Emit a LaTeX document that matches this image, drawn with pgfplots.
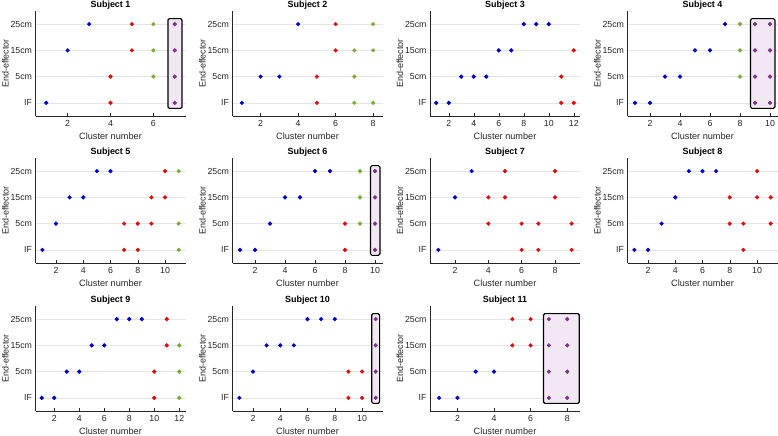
\documentclass[border=0pt]{standalone}
\usepackage{pgfplots}
\pgfplotsset{compat=1.18}
\usepackage{fontspec}
\setmainfont{Liberation Sans}
\definecolor{cB}{RGB}{0,0,200}
\definecolor{cR}{RGB}{225,10,10}
\definecolor{cG}{RGB}{119,172,48}
\definecolor{cP}{RGB}{126,47,142}
\definecolor{boxfill}{RGB}{242,232,243}
\definecolor{axc}{RGB}{38,38,38}
\tikzset{hbox/.style={draw=black,line width=1.2bp,fill=boxfill,rounded corners=1.5bp}}
\pgfplotsset{
  sub/.style={width=150bp,height=105bp,scale only axis,anchor=south west,
    xmin=0.5,ymin=0.5,ymax=4.5,
    ytick={1,2,3,4},yticklabels={IF,5cm,15cm,25cm},
    xtick={2,4,6,8,10,12},
    ymajorgrids,grid style={black!10,line width=0.5bp},
    axis x line*=bottom,axis y line*=left,
    axis line style={axc,line width=0.6bp},
    tick style={axc,line width=0.5bp},
    tick align=inside,major tick length=2.5bp,
    ytick style={draw=none},
    ticklabel style={font=\fontsize{8.8}{9}\selectfont,text=axc},
    xticklabel style={yshift=-1bp},
    /pgf/number format/assume math mode=true,
    label style={font=\fontsize{9.2}{10}\selectfont,text=axc},
    xlabel={Cluster number},ylabel={End-effector},
    xlabel style={yshift=1bp},
    ylabel style={font=\fontsize{9}{10}\selectfont,yshift=-5bp},
    title style={font=\bfseries\fontsize{9}{10}\selectfont,yshift=-8bp},
    clip=false},
  bl/.style={only marks,mark=*,mark size=1.9bp,color=cB},
  rd/.style={only marks,mark=*,mark size=1.9bp,color=cR},
  gr/.style={only marks,mark=*,mark size=1.9bp,color=cG},
  pu/.style={only marks,mark=*,mark size=1.9bp,color=cP},
}
\begin{document}
\begin{tikzpicture}[x=1bp,y=1bp]
\path[use as bounding box] (0,0) rectangle (778,436);
% Row 1
\begin{axis}[sub,at={(35.5bp,320bp)},xmax=7.5,title={Subject 1}]
\draw[hbox] (axis cs:6.68,0.79) rectangle (axis cs:7.34,4.21);
\addplot[bl] coordinates {(1,1)(2,3)(3,4)};
\addplot[rd] coordinates {(4,1)(4,2)(5,3)(5,4)};
\addplot[gr] coordinates {(6,2)(6,3)(6,4)};
\addplot[pu] coordinates {(7,1)(7,2)(7,3)(7,4)};
\end{axis}
\begin{axis}[sub,at={(232.5bp,320bp)},xmax=8.5,title={Subject 2}]
\addplot[bl] coordinates {(1,1)(2,2)(3,2)(4,4)};
\addplot[rd] coordinates {(5,1)(5,2)(6,3)(6,4)};
\addplot[gr] coordinates {(7,1)(7,2)(7,3)(8,1)(8,3)(8,4)};
\end{axis}
\begin{axis}[sub,at={(430bp,320bp)},xmax=12.5,title={Subject 3}]
\addplot[bl] coordinates {(1,1)(2,1)(3,2)(4,2)(5,2)(6,3)(7,3)(8,4)(9,4)(10,4)};
\addplot[rd] coordinates {(11,1)(11,2)(12,1)(12,3)};
\end{axis}
\begin{axis}[sub,at={(627.5bp,320bp)},xmax=10.5,title={Subject 4}]
\draw[hbox] (axis cs:8.7,0.79) rectangle (axis cs:10.33,4.21);
\addplot[bl] coordinates {(1,1)(2,1)(3,2)(4,2)(5,3)(6,3)(7,4)};
\addplot[gr] coordinates {(8,2)(8,3)(8,4)};
\addplot[pu] coordinates {(9,1)(9,2)(9,3)(9,4)(10,1)(10,2)(10,3)(10,4)};
\end{axis}
% Row 2
\begin{axis}[sub,at={(35.5bp,173bp)},xmax=11.5,title={Subject 5}]
\addplot[bl] coordinates {(1,1)(2,2)(3,3)(4,3)(5,4)(6,4)};
\addplot[rd] coordinates {(7,1)(7,2)(8,1)(8,2)(9,2)(9,3)(10,3)(10,4)};
\addplot[gr] coordinates {(11,1)(11,2)(11,4)};
\end{axis}
\begin{axis}[sub,at={(232.5bp,173bp)},xmax=10.5,title={Subject 6}]
\draw[hbox] (axis cs:9.7,0.79) rectangle (axis cs:10.33,4.21);
\addplot[bl] coordinates {(1,1)(2,1)(3,2)(4,3)(5,3)(6,4)(7,4)};
\addplot[rd] coordinates {(8,1)(8,2)};
\addplot[gr] coordinates {(9,2)(9,3)(9,4)};
\addplot[pu] coordinates {(10,1)(10,2)(10,3)(10,4)};
\end{axis}
\begin{axis}[sub,at={(430bp,173bp)},xmax=9.5,title={Subject 7}]
\addplot[bl] coordinates {(1,1)(2,3)(3,4)};
\addplot[rd] coordinates {(4,2)(4,3)(5,3)(5,4)(6,1)(6,2)(7,1)(7,2)(8,3)(8,4)(9,1)(9,2)};
\end{axis}
\begin{axis}[sub,at={(627.5bp,173bp)},xmax=11.5,title={Subject 8}]
\addplot[bl] coordinates {(1,1)(2,1)(3,2)(4,3)(5,4)(6,4)(7,4)};
\addplot[rd] coordinates {(8,2)(8,3)(9,1)(9,2)(10,3)(10,4)(11,2)(11,3)};
\end{axis}
% Row 3
\begin{axis}[sub,at={(35.5bp,25bp)},xmax=12.5,title={Subject 9}]
\addplot[bl] coordinates {(1,1)(2,1)(3,2)(4,2)(5,3)(6,3)(7,4)(8,4)(9,4)};
\addplot[rd] coordinates {(10,1)(10,2)(11,3)(11,4)};
\addplot[gr] coordinates {(12,1)(12,2)(12,3)};
\end{axis}
\begin{axis}[sub,at={(232.5bp,25bp)},xmax=11.5,title={Subject 10}]
\draw[hbox] (axis cs:10.71,0.79) rectangle (axis cs:11.29,4.21);
\addplot[bl] coordinates {(1,1)(2,2)(3,3)(4,3)(5,3)(6,4)(7,4)(8,4)};
\addplot[rd] coordinates {(9,1)(9,2)(10,1)(10,2)};
\addplot[pu] coordinates {(11,1)(11,2)(11,3)(11,4)};
\end{axis}
\begin{axis}[sub,at={(430bp,25bp)},xmax=8.7,title={Subject 11}]
\draw[hbox] (axis cs:6.7,0.79) rectangle (axis cs:8.66,4.21);
\addplot[bl] coordinates {(1,1)(2,1)(3,2)(4,2)};
\addplot[rd] coordinates {(5,3)(5,4)(6,3)(6,4)};
\addplot[pu] coordinates {(7,1)(7,2)(7,3)(7,4)(8,1)(8,2)(8,3)(8,4)};
\end{axis}
\end{tikzpicture}
\end{document}
